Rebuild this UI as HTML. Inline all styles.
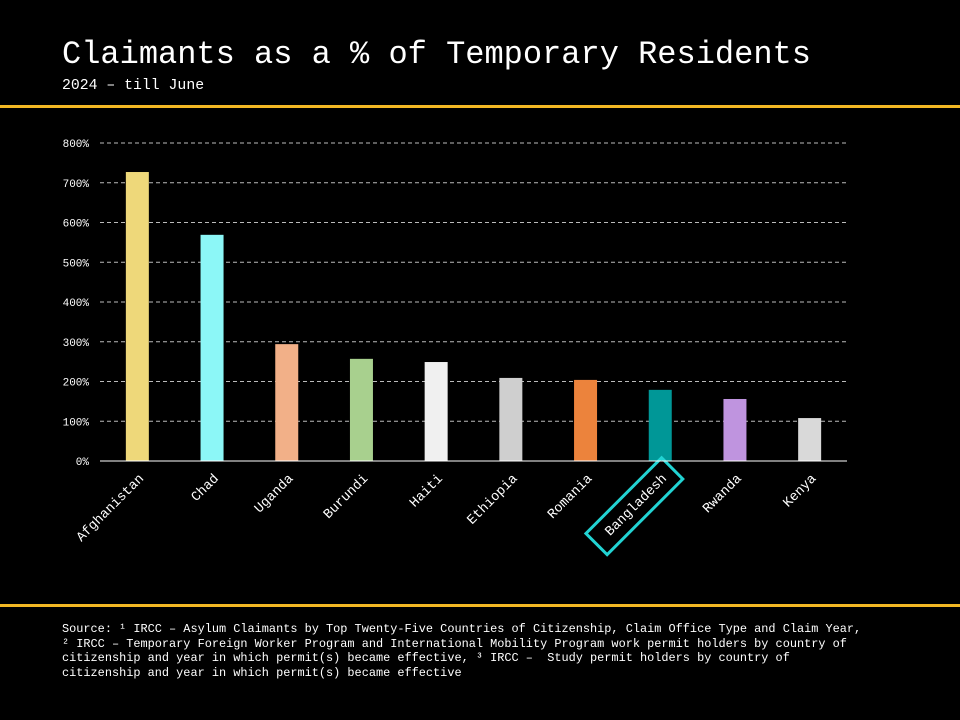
<!DOCTYPE html>
<html><head><meta charset="utf-8"><style>
body{margin:0;background:#000;width:960px;height:720px;overflow:hidden;font-family:"Liberation Mono",monospace;color:#fff;position:relative}
.t{position:absolute;left:62px;top:36px;font-size:32px;white-space:nowrap}
.s{position:absolute;left:62px;top:78px;font-size:14.8px}
.rule{position:absolute;left:0;width:960px;height:3px;background:#f2b824}
.f{position:absolute;left:62px;top:622px;font-size:11.9px;line-height:14.6px;white-space:pre}
</style></head><body>
<div class="t">Claimants as a % of Temporary Residents</div>
<div class="s">2024 – till June</div>
<div class="rule" style="top:105px"></div>
<div class="rule" style="top:604px"></div>
<svg id="c" width="960" height="720" style="position:absolute;left:0;top:0"></svg>
<div class="f">Source: ¹ IRCC – Asylum Claimants by Top Twenty-Five Countries of Citizenship, Claim Office Type and Claim Year,
² IRCC – Temporary Foreign Worker Program and International Mobility Program work permit holders by country of
citizenship and year in which permit(s) became effective, ³ IRCC –  Study permit holders by country of
citizenship and year in which permit(s) became effective</div>
<script>
const categories=["Afghanistan","Chad","Uganda","Burundi","Haiti","Ethiopia","Romania","Bangladesh","Rwanda","Kenya"];
const values=[727,569,294,257,249,209,204,179,156,108];
const colors=["#eed87a","#8cf7f7","#f2b088","#a8d08e","#f0f0f0","#cfcfcf","#ec833c","#009797","#bf94df","#d9d9d9"];
const ticks=[0,100,200,300,400,500,600,700,800];
const highlight="Bangladesh";
const NS="http://www.w3.org/2000/svg";
const svg=document.getElementById('c');
const x0=100,x1=847,y0=461,y1=143,ymax=800;
const y=v=>y0-(v/ymax)*(y0-y1);
const band=(x1-x0)/categories.length;
const xc=i=>x0+band*(i+0.5);
function mk(t,a){const e=document.createElementNS(NS,t);for(const k in a)e.setAttribute(k,a[k]);svg.appendChild(e);return e;}
ticks.forEach(v=>{
 if(v>0){const g=mk('line',{x1:x0,x2:x1,y1:y(v),y2:y(v),stroke:'#bbb','stroke-dasharray':'4,3','stroke-width':1});
 
 }
 const t=mk('text',{x:89,y:y(v)+4,'text-anchor':'end',fill:'#fff','font-size':11,'font-family':'Liberation Mono, monospace'});
 t.textContent=v+'%';
 
 
});
categories.forEach((c,i)=>{
 const r=mk('rect',{x:xc(i)-11.5,y:y(values[i]),width:23,height:y0-y(values[i]),fill:colors[i]});
 
 
 const cx=xc(i)+7,cy=479;
 const t=mk('text',{x:cx,y:cy,'text-anchor':'end',fill:'#fff','font-size':13.5,'font-family':'Liberation Mono, monospace',transform:`rotate(-45 ${cx} ${cy})`});
 t.textContent=c;
 
 
 if(c===highlight){
  const w=c.length*8.1+26;
  const b=mk('rect',{x:cx-w+11,y:cy-19,width:w,height:30,fill:'none',stroke:'#22d3d3','stroke-width':3,transform:`rotate(-45 ${cx} ${cy})`});
  
  
 }
});
const ax=mk('line',{x1:x0,x2:x1,y1:y0,y2:y0,stroke:'#fff','stroke-width':1});


</script>
</body></html>
